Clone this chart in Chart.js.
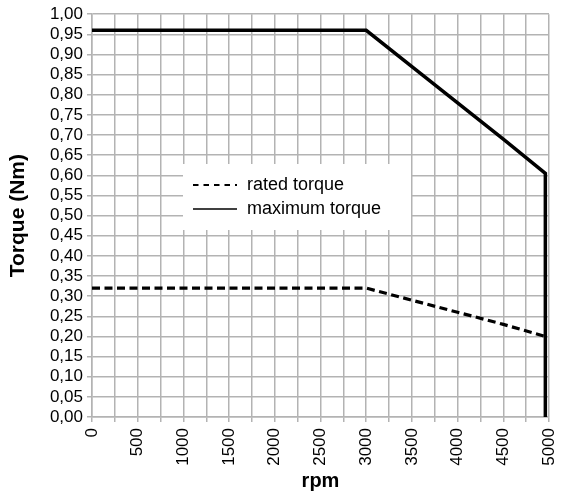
<!DOCTYPE html>
<html>
<head>
<meta charset="utf-8">
<script src="https://cdn.jsdelivr.net/npm/chart.js@4"></script>
<style>
  body { margin: 0; background: #fff; }
  #wrap { width: 564px; height: 498px; position: relative; }
</style>
</head>
<body>
<div id="wrap"><canvas id="chart"></canvas></div>
<script>
// ===== DATA =====
const seriesNames = ["rated torque", "maximum torque"];

const rpmRated = [0, 3000, 3500, 4000, 4500, 4960];
const torqueRated = [0.32, 0.32, 0.29, 0.26, 0.23, 0.20];

const rpmMax = [0, 3000, 3500, 4000, 4500, 4960, 4960];
const torqueMax = [0.96, 0.96, 0.87, 0.78, 0.69, 0.605, 0];

const xTitle = "rpm";
const yTitle = "Torque (Nm)";

const FONT = "'Liberation Sans', Arial, sans-serif";
const GRID = "#b3b3b3";

const toPoints = (xs, ys) => xs.map((x, i) => ({ x: x, y: ys[i] }));

// ===== LEGEND BOX (inside plot) =====
const boxLegend = {
  id: "boxLegend",
  beforeDatasetsDraw(chart) {
    const ctx = chart.ctx;
    ctx.save();
    ctx.fillStyle = "#fff";
    ctx.fillRect(183, 164, 228, 66);

    // rated sample
    ctx.strokeStyle = "#000";
    ctx.lineWidth = 2;
    ctx.setLineDash([5.5, 5]);
    ctx.beginPath();
    ctx.moveTo(193, 185);
    ctx.lineTo(237, 185);
    ctx.stroke();

    // maximum sample
    ctx.setLineDash([]);
    ctx.lineWidth = 1.6;
    ctx.beginPath();
    ctx.moveTo(193, 209);
    ctx.lineTo(237, 209);
    ctx.stroke();

    ctx.fillStyle = "#000";
    ctx.font = "18px " + FONT;
    ctx.textBaseline = "alphabetic";
    ctx.textAlign = "left";
    ctx.fillText(seriesNames[0], 247, 190);
    ctx.fillText(seriesNames[1], 247, 214);
    ctx.restore();
  }
};

// ===== CHART =====
new Chart(document.getElementById("chart"), {
  type: "line",
  data: {
    datasets: [
      {
        label: seriesNames[0],
        data: toPoints(rpmRated, torqueRated),
        borderColor: "#000",
        borderWidth: 3.2,
        borderDash: [8, 4.5],
        pointRadius: 0,
        tension: 0,
        fill: false
      },
      {
        label: seriesNames[1],
        data: toPoints(rpmMax, torqueMax),
        borderColor: "#000",
        borderWidth: 3.5,
        pointRadius: 0,
        tension: 0,
        fill: false
      }
    ]
  },
  options: {
    responsive: true,
    maintainAspectRatio: false,
    animation: false,
    layout: { padding: { top: 14, right: 15, left: 0, bottom: 0 } },
    plugins: {
      legend: { display: false },
      tooltip: { enabled: false }
    },
    scales: {
      x: {
        type: "linear",
        min: 0,
        max: 5000,
        afterFit: s => { s.height = 81; s.paddingRight = 0; s.paddingLeft = 0; },
        grid: { color: GRID, lineWidth: 1.5, tickLength: 5, tickColor: GRID },
        border: { color: GRID, width: 1.5 },
        ticks: {
          stepSize: 250,
          autoSkip: false,
          maxRotation: 90,
          minRotation: 90,
          padding: 6,
          color: "#000",
          font: { family: FONT, size: 17 },
          callback: v => (v % 500 === 0 ? String(v) : "")
        },
        title: {
          display: true,
          text: xTitle,
          color: "#000",
          font: { family: FONT, size: 20, weight: "bold" },
          padding: { top: 0, bottom: 5 }
        }
      },
      y: {
        min: 0,
        max: 1,
        afterFit: s => { s.width = 92; },
        grid: { color: GRID, lineWidth: 1.5, tickLength: 5, tickColor: GRID },
        border: { color: GRID, width: 1.5 },
        ticks: {
          stepSize: 0.05,
          autoSkip: false,
          padding: 4,
          color: "#000",
          font: { family: FONT, size: 17 },
          callback: v => v.toFixed(2).replace(".", ",")
        },
        title: {
          display: true,
          text: yTitle,
          color: "#000",
          font: { family: FONT, size: 21, weight: "bold" },
          padding: { top: 6, bottom: 0 }
        }
      }
    }
  },
  plugins: [boxLegend]
});
</script>
</body>
</html>
